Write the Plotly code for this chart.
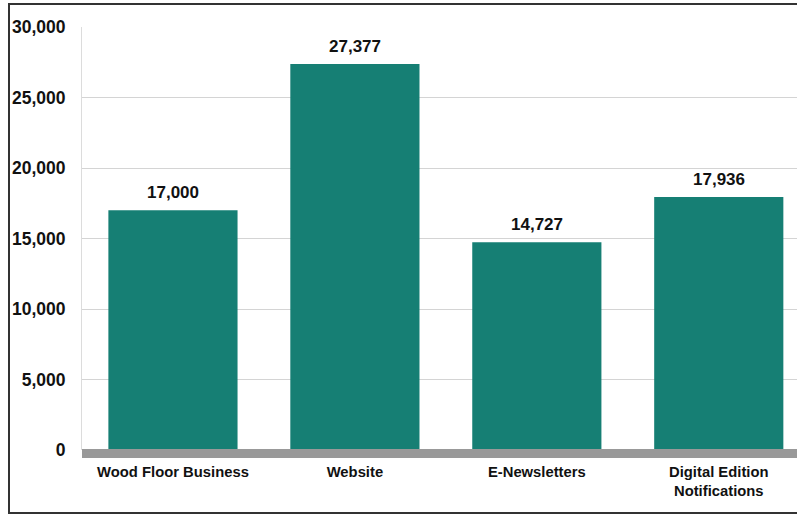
import plotly.graph_objects as go

categories = ["Wood Floor Business", "Website", "E-Newsletters", "Digital Edition<br>Notifications"]
values = [17000, 27377, 14727, 17936]
y_ticks = [0, 5000, 10000, 15000, 20000, 25000, 30000]
y_tick_labels = ["0", "5,000", "10,000", "15,000", "20,000", "25,000", "30,000"]

W, H = 797, 515
ml, mr, mt, mb = 82, 0, 27, 65
pw, ph = W - ml - mr, H - mt - mb

num_font = "Liberation Sans, Arial, sans-serif"

x_pos = list(range(len(categories)))

fig = go.Figure(go.Bar(
    x=x_pos,
    y=values,
    width=0.71,
    marker=dict(color="#167F74", line=dict(width=0)),
))

for xi, v in zip(x_pos, values):
    fig.add_annotation(
        x=xi, y=v, xref="x", yref="y",
        text=f"<b>{v:,}</b>", showarrow=False,
        yanchor="bottom", yshift=6,
        font=dict(family=num_font, size=17, color="#111111"),
    )

fig.update_layout(
    width=W, height=H,
    margin=dict(l=ml, r=mr, t=mt, b=mb, pad=0),
    paper_bgcolor="white", plot_bgcolor="white",
    showlegend=False,
    xaxis=dict(
        range=[-0.5, 3.43],
        tickmode="array",
        tickvals=x_pos,
        ticktext=[f"<b>{c}</b>" for c in categories],
        tickfont=dict(family=num_font, size=14.8, color="#111111"),
        showgrid=False, zeroline=False, showline=False,
        ticks="", ticklabelstandoff=11,
    ),
    yaxis=dict(
        range=[0, 30000],
        tickmode="array",
        tickvals=y_ticks,
        ticktext=[f"<b>{t}</b>" for t in y_tick_labels],
        tickfont=dict(family=num_font, size=17.5, color="#111111"),
        showgrid=True, gridcolor="#d4d4d4", gridwidth=1,
        zeroline=False,
        showline=True, linecolor="#dcdcdc", linewidth=1,
        ticks="", ticklabelstandoff=12,
    ),
    shapes=[
        dict(type="rect", xref="paper", yref="paper",
             x0=0, x1=1.05, y0=-8 / ph, y1=1 / ph,
             fillcolor="#999999", line=dict(width=0), layer="above"),
        dict(type="rect", xref="paper", yref="paper",
             x0=(9 - ml) / pw, x1=1.1, y0=-(513 - (H - mb)) / ph, y1=((H - mb) - 4) / ph,
             fillcolor="rgba(0,0,0,0)", line=dict(color="#333333", width=2)),
    ],
)

fig.write_html("out.html")
